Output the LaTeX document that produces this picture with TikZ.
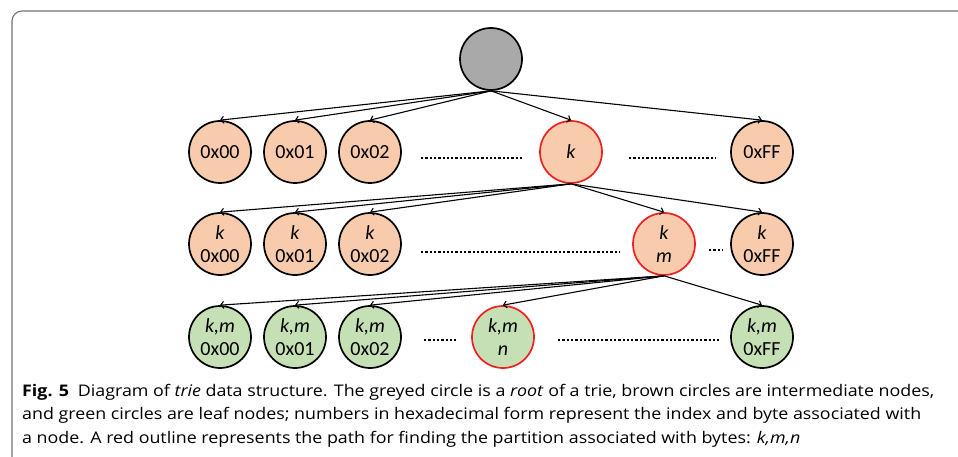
\documentclass[tikz,border=0pt]{standalone}
\usepackage{fontspec}
\setmainfont{Carlito}
\newfontfamily\capfont{Open Sans}
\usetikzlibrary{arrows.meta}
\definecolor{peach}{HTML}{F8CBAD}
\definecolor{leaf}{HTML}{C5E0B4}
\definecolor{rootgrey}{HTML}{A9A9A9}
\definecolor{pathred}{HTML}{EE2020}
\definecolor{framegrey}{HTML}{707070}
\newcommand{\capstretch}[1]{\scalebox{1.115}[1]{#1}}
\tikzset{
  tn/.style={circle, minimum size=62pt, inner sep=0pt, line width=1.7pt, draw=black,
    font=\fontsize{20}{23.6}\selectfont, align=center},
  mid/.style={tn, fill=peach},
  lf/.style={tn, fill=leaf},
  onpath/.style={draw=pathred},
  edge/.style={-{Straight Barb[length=3pt,width=7pt]}, line width=1.1pt},
  dotrow/.style={line width=2.6pt, dash pattern=on 2.3pt off 2.0pt},
  capline/.style={anchor=base west, inner sep=0pt, font=\capfont\fontsize{16}{16}\selectfont}
}
\begin{document}
\begin{tikzpicture}[x=1pt,y=-1pt]
\useasboundingbox (0,0) rectangle (958,457);
\begin{scope}
\clip (0,0) rectangle (958,457);
\draw[framegrey, line width=1.1pt, rounded corners=10pt] (12,11) rectangle (990,490);
\end{scope}

\node[tn, fill=rootgrey] (root) at (491,59) {};

\node[mid] (a0) at (220,152) {0x00};
\node[mid] (a1) at (295,152) {0x01};
\node[mid] (a2) at (370,152) {0x02};
\node[mid, onpath] (ak) at (571,152) {\itshape k};
\node[mid] (aF) at (762,152) {0xFF};

\node[mid] (b0) at (220,244) {\itshape k\\0x00};
\node[mid] (b1) at (295,244) {\itshape k\\0x01};
\node[mid] (b2) at (370,244) {\itshape k\\0x02};
\node[mid, onpath] (bm) at (664,244) {\itshape k\\\itshape m};
\node[mid] (bF) at (762,244) {\itshape k\\0xFF};

\node[lf] (c0) at (220,337) {\itshape k,m\\0x00};
\node[lf] (c1) at (295,337) {\itshape k,m\\0x01};
\node[lf] (c2) at (370,337) {\itshape k,m\\0x02};
\node[lf, onpath] (cn) at (503,337) {\itshape k,m\\\itshape n};
\node[lf] (cF) at (762,337) {\itshape k,m\\0xFF};

\foreach \t in {a0,a1,a2,ak,aF} \draw[edge] (root.south) -- (\t.north);
\foreach \t in {b0,b1,b2,bm,bF} \draw[edge] (ak.south) -- (\t.north);
\foreach \t in {c0,c1,c2,cn,cF} \draw[edge] (bm.south) -- (\t.north);

\coordinate (d1s) at (421,158); \coordinate (d1e) at (523,158);
\coordinate (d2s) at (629,158); \coordinate (d2e) at (716,158);
\coordinate (d3s) at (421,252); \coordinate (d3e) at (619,252);
\coordinate (d4s) at (709,250); \coordinate (d4e) at (723,250);
\coordinate (d5s) at (424,340); \coordinate (d5e) at (456,340);
\coordinate (d6s) at (558,340); \coordinate (d6e) at (719,340);
\foreach \s/\e in {d1s/d1e,d2s/d2e,d3s/d3e,d4s/d4e,d5s/d5e,d6s/d6e}
  \draw[dotrow] (\s) -- (\e);

\node[capline] (cap1) at (22,396) {\capstretch{\textbf{Fig. 5}\hspace{0.5em}Diagram of \textit{trie} data structure. The greyed circle is a \textit{root} of a trie, brown circles are intermediate nodes,}};
\node[capline] (cap2) at (22,419.5) {\capstretch{and green circles are leaf nodes; numbers in hexadecimal form represent the index and byte associated with}};
\node[capline] (cap3) at (22,443) {\capstretch{a node. A red outline represents the path for finding the partition associated with bytes: \textit{k,m,n}}};
\end{tikzpicture}
\end{document}
